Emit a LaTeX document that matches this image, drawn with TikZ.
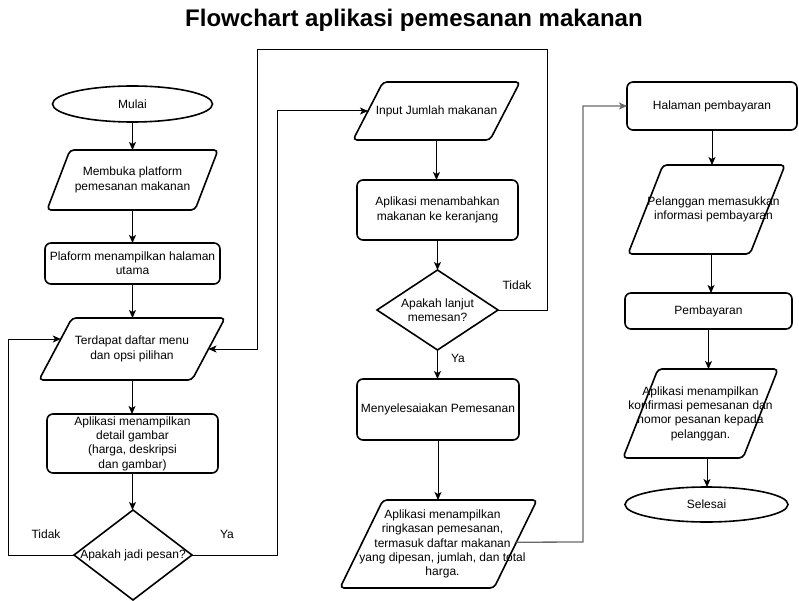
\documentclass[tikz,border=0pt]{standalone}
\usepackage{fontspec}
\setmainfont{Liberation Sans}
\usetikzlibrary{shapes.geometric,arrows.meta,calc}
\begin{document}
\begin{tikzpicture}[x=1pt,y=-1pt,
  txt/.style={inner sep=0pt, outer sep=0pt, align=center, font=\fontsize{12}{14.4}\selectfont},
  outline/.style={draw=black, line width=1.6pt},
  proc/.style={txt, outline, rounded corners=6pt},
  term/.style={txt, outline, ellipse},
  pbox/.style={txt},
  pline/.style={outline, rounded corners=4pt},
  dec/.style={txt, outline, diamond},
  arr/.style={draw=black, line width=1pt, -{Stealth[length=8pt,width=7pt,inset=2pt]}},
  garr/.style={draw={rgb,255:red,105;green,105;blue,105}, line width=1.3pt, -{Stealth[length=8pt,width=7pt,inset=2pt]}},
  lbl/.style={txt}
]
\fill[white] (0,0) rectangle (799,601);
\useasboundingbox (0,0) rectangle (799,601);

\node[anchor=base, font=\bfseries\fontsize{24}{28}\selectfont] (title) at (414,27) {Flowchart aplikasi pemesanan makanan};

% left column
\node[term, minimum width=160pt, minimum height=36pt] (start) at (132.5,104) {Mulai};
\node[pbox, minimum width=171pt, minimum height=60pt] (p1) at (132.5,180) {Membuka platform\\pemesanan makanan};
\node[proc, minimum width=175pt, minimum height=41pt] (r1) at (132.5,263.5) {Plaform menampilkan halaman\\utama};
\node[pbox, minimum width=186pt, minimum height=62pt] (p2) at (132,349) {Terdapat daftar menu\\dan opsi pilihan};
\node[proc, minimum width=171pt, minimum height=59pt] (r2) at (132.5,443.5) {Aplikasi menampilkan\\detail gambar\\(harga, deskripsi\\dan gambar)};
\node[dec, minimum width=118pt, minimum height=90pt, label={[txt]center:Apakah jadi pesan?}] (d1) at (133,555) {};

% middle column
\node[pbox, minimum width=167pt, minimum height=58pt] (p3) at (436.5,111) {Input Jumlah makanan};
\node[proc, minimum width=161pt, minimum height=60pt] (r3) at (437.5,210) {Aplikasi menambahkan\\makanan ke keranjang};
\node[dec, minimum width=121pt, minimum height=80pt, label={[txt]center:Apakah lanjut\\memesan?}] (d2) at (437.5,310) {};
\node[proc, minimum width=162pt, minimum height=61pt] (r4) at (438,409.5) {Menyelesaiakan Pemesanan};
\node[pbox, minimum width=197pt, minimum height=88pt, label={[txt,xshift=4pt]center:Aplikasi menampilkan\\ringkasan pemesanan,\\termasuk daftar makanan\\yang dipesan, jumlah, dan total\\harga.}] (p4) at (438.5,544) {};

% right column
\node[proc, minimum width=170pt, minimum height=48pt] (r5) at (712,106) {Halaman pembayaran};
\node[pbox, minimum width=157pt, minimum height=89pt, label={[txt,xshift=7pt]center:Pelanggan memasukkan\\informasi pembayaran}] (p5) at (706.5,209.5) {};
\node[proc, minimum width=167pt, minimum height=36pt] (r6) at (708.5,311) {Pembayaran};
\node[pbox, minimum width=155pt, minimum height=89pt] (p6) at (700.5,413.5) {Aplikasi menampilkan\\konfirmasi pemesanan dan\\nomor pesanan kepada\\pelanggan.};
\node[term, minimum width=163pt, minimum height=35pt] (end) at (706.5,504.5) {Selesai};

% parallelogram outlines
\foreach \n/\s in {p1/23,p2/33,p3/30,p4/43,p5/35,p6/35}
  \draw[pline] ([xshift=\s pt]\n.north west) -- (\n.north east) -- ([xshift=-\s pt]\n.south east) -- (\n.south west) -- cycle;

% entry points on slanted edges
\coordinate (p2in) at ($(p2.south west)!0.661!([xshift=33pt]p2.north west)$);
\coordinate (p2rin) at ($(p2.north east)!0.5!([xshift=-33pt]p2.south east)$);
\coordinate (p3in) at ($(p3.south west)!0.5!([xshift=30pt]p3.north west)$);
\coordinate (p4out) at ($(p4.north east)!0.48!([xshift=-43pt]p4.south east)$);

% connectors left column
\draw[arr] (start.south) -- (start.south |- p1.north);
\draw[arr] (p1.south) -- (p1.south |- r1.north);
\draw[arr] (r1.south) -- (r1.south |- p2.north);
\draw[arr] (p2.south) -- (p2.south |- r2.north);
\draw[arr] (r2.south) -- (r2.south |- d1.north);
\draw[arr] (d1.west) -- (8,555) |- (p2in);
\draw[arr] (d1.east) -- (277,555) |- (p3in);
\node[lbl] (t1) at (46,534) {Tidak};
\node[lbl] (y1) at (227,534) {Ya};

% middle column
\draw[arr] (p3.south) -- (p3.south |- r3.north);
\draw[arr] (r3.south) -- (r3.south |- d2.north);
\draw[arr] (d2.east) -- (547,310) -- (547,50) -- (257,50) |- (p2rin);
\draw[arr] (d2.south) -- (d2.south |- r4.north);
\draw[arr] (r4.south) -- (r4.south |- p4.north);
\node[lbl] (t2) at (517,285) {Tidak};
\node[lbl] (y2) at (458,358) {Ya};
\draw[garr] (p4out) -- (583,542) |- (r5.west);

% right column
\draw[arr] (r5.south) -- (r5.south |- p5.north);
\draw[arr] (711,254) coordinate (p5s) -- (p5s |- r6.north);
\draw[arr] (r6.south) -- (r6.south |- p6.north);
\draw[arr] (707,458) coordinate (p6s) -- (p6s |- end.north);
\end{tikzpicture}
\end{document}
